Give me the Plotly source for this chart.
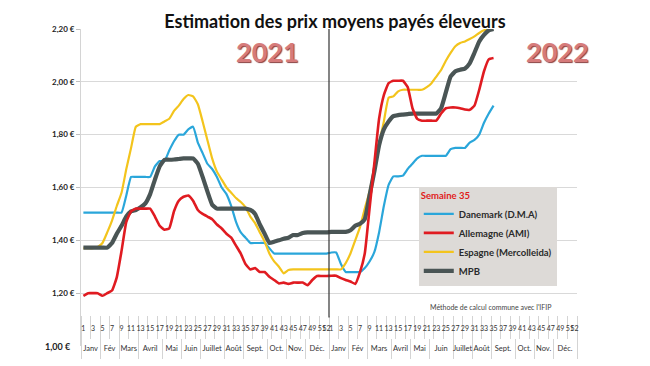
import plotly.graph_objects as go

# ---------------- data ----------------
weeks_2021 = list(range(1, 53))
weeks_2022 = list(range(1, 53))
months = ["Janv", "Fév", "Mars", "Avril", "Mai", "Juin", "Juillet", "Août",
          "Sept.", "Oct.", "Nov.", "Déc."]
month_weeks_2021 = [4, 4, 4, 5, 4, 4, 5, 4, 5, 4, 4, 5]
month_weeks_2022 = [4, 4, 5, 4, 4, 5, 4, 4, 5, 4, 4, 5]

y_tick_values = [1.2, 1.4, 1.6, 1.8, 2.0, 2.2]
y_tick_labels = ["1,20 €", "1,40 €", "1,60 €", "1,80 €", "2,00 €", "2,20 €"]
y_min_label = "1,00 €"

danemark_2021 = [1.505, 1.505, 1.505, 1.505, 1.505, 1.505, 1.505, 1.505, 1.505, 1.57,
                 1.64, 1.64, 1.64, 1.64, 1.64, 1.68, 1.70, 1.70, 1.74, 1.775,
                 1.80, 1.80, 1.82, 1.83, 1.77, 1.73, 1.69, 1.67, 1.64, 1.60,
                 1.575, 1.53, 1.47, 1.43, 1.41, 1.39, 1.39, 1.39, 1.39, 1.37,
                 1.35, 1.35, 1.35, 1.35, 1.35, 1.35, 1.35, 1.35, 1.35, 1.35,
                 1.35, 1.35]
danemark_2022 = [1.354, 1.354, 1.31, 1.28, 1.28, 1.28, 1.28, 1.295, 1.32, 1.355,
                 1.43, 1.53, 1.61, 1.642, 1.642, 1.645, 1.67, 1.69, 1.71, 1.72,
                 1.72, 1.72, 1.72, 1.72, 1.72, 1.745, 1.75, 1.75, 1.75, 1.77,
                 1.78, 1.80, 1.845, 1.88, 1.91]

allemagne_2021 = [1.19, 1.20, 1.20, 1.20, 1.19, 1.20, 1.21, 1.26, 1.36, 1.47,
                  1.51, 1.52, 1.52, 1.52, 1.52, 1.49, 1.455, 1.44, 1.445, 1.51,
                  1.55, 1.565, 1.57, 1.55, 1.515, 1.50, 1.49, 1.48, 1.46, 1.445,
                  1.425, 1.41, 1.38, 1.35, 1.31, 1.29, 1.295, 1.28, 1.28, 1.262,
                  1.25, 1.237, 1.24, 1.235, 1.24, 1.24, 1.24, 1.23, 1.25, 1.265,
                  1.265, 1.265]
allemagne_2022 = [1.266, 1.266, 1.257, 1.25, 1.244, 1.235, 1.28, 1.35, 1.52, 1.69,
                  1.86, 1.95, 1.995, 2.004, 2.004, 2.004, 1.98, 1.90, 1.86, 1.853,
                  1.853, 1.853, 1.853, 1.88, 1.90, 1.903, 1.903, 1.90, 1.895, 1.894,
                  1.91, 1.97, 2.04, 2.085, 2.09]

espagne_2021 = [1.37, 1.37, 1.37, 1.375, 1.39, 1.43, 1.475, 1.53, 1.58, 1.67,
                1.75, 1.83, 1.84, 1.84, 1.84, 1.84, 1.84, 1.85, 1.86, 1.89,
                1.91, 1.935, 1.95, 1.945, 1.915, 1.85, 1.78, 1.71, 1.66, 1.63,
                1.60, 1.58, 1.56, 1.545, 1.525, 1.49, 1.465, 1.43, 1.395, 1.35,
                1.32, 1.30, 1.275, 1.2875, 1.29, 1.29, 1.29, 1.29, 1.29, 1.29,
                1.29, 1.29]
espagne_2022 = [1.29, 1.29, 1.29, 1.314, 1.35, 1.40, 1.45, 1.52, 1.585, 1.67,
                1.765, 1.85, 1.94, 1.945, 1.964, 1.97, 1.97, 1.97, 1.97, 1.97,
                1.98, 1.995, 2.02, 2.045, 2.08, 2.11, 2.135, 2.147, 2.153, 2.162,
                2.172, 2.185, 2.195, 2.20, 2.205]

mpb_2021 = [1.3725, 1.3725, 1.3725, 1.3725, 1.3725, 1.3725, 1.39, 1.425, 1.455, 1.49,
            1.51, 1.515, 1.525, 1.54, 1.575, 1.63, 1.68, 1.705, 1.705, 1.706,
            1.708, 1.71, 1.71, 1.71, 1.69, 1.64, 1.585, 1.535, 1.52, 1.52,
            1.52, 1.52, 1.52, 1.52, 1.52, 1.515, 1.50, 1.46, 1.425, 1.39,
            1.395, 1.40, 1.406, 1.41, 1.42, 1.42, 1.4275, 1.43, 1.43, 1.43,
            1.43, 1.43]
mpb_2022 = [1.432, 1.432, 1.432, 1.432, 1.438, 1.455, 1.463, 1.48, 1.57, 1.66,
            1.76, 1.82, 1.85, 1.87, 1.874, 1.876, 1.878, 1.88, 1.88, 1.88,
            1.88, 1.88, 1.88, 1.90, 1.96, 2.02, 2.04, 2.046, 2.05, 2.07,
            2.11, 2.153, 2.178, 2.195, 2.20]

series = [
    ("Danemark (D.M.A)", danemark_2021, danemark_2022, "#2aa6da", 2.2, 1),
    ("Espagne (Mercolleida)", espagne_2021, espagne_2022, "#f3c41c", 2.2, 3),
    ("MPB", mpb_2021, mpb_2022, "#4a5555", 4.2, 4),
    ("Allemagne (AMI)", allemagne_2021, allemagne_2022, "#e01b21", 2.6, 2),
]

FONT = "Lato"
n21 = len(weeks_2021)
n_total = n21 + len(weeks_2022)

fig = go.Figure()
for name, y21, y22, color, width, rank in series:
    yy = y21 + y22
    fig.add_trace(go.Scatter(
        x=list(range(len(yy))), y=yy, name=name, mode="lines",
        line=dict(color=color, width=width, shape="spline", smoothing=0.4),
        legendrank=rank, xaxis="x", yaxis="y"))

# week row ticks
tick_vals, tick_text = [], []
for off, weeks in ((0, weeks_2021), (n21, weeks_2022)):
    for w in weeks:
        if w % 2 == 1 or w == weeks[-1]:
            tick_vals.append(off + w - 1)
            tick_text.append(str(w))
week_bounds = [k - 0.5 for k in range(0, n_total + 1, 2)]

# month row
month_vals, month_text, month_bounds = [], [], [-0.5]
start = 0
for counts in (month_weeks_2021, month_weeks_2022):
    for m, c in zip(months, counts):
        month_vals.append(start + (c - 1) / 2)
        month_text.append(m)
        start += c
        month_bounds.append(start - 0.5)

xrange_ = [-0.5, n_total - 0.5]

# page body has an 8px margin: compensate in the figure margins
fig.update_layout(
    width=650, height=366,
    margin=dict(l=73, r=81, t=21, b=28, autoexpand=False),
    paper_bgcolor="white", plot_bgcolor="white",
    font=dict(family=FONT, color="#222"),
    title=dict(text="<b>Estimation des prix moyens payés éleveurs</b>",
               x=0.503, xanchor="center", y=1 - 14 / 366, yanchor="middle",
               font=dict(size=18, family=FONT, color="#111")),
    xaxis=dict(range=xrange_, showgrid=False, zeroline=False, showline=False,
               anchor="free", position=0.098, automargin=False,
               tickmode="array", tickvals=tick_vals, ticktext=tick_text,
               tickangle=0, ticks="", ticklabelstandoff=8,
               tickfont=dict(size=7, family=FONT, color="#333"),
               minor=dict(tickvals=week_bounds, ticks="outside", ticklen=23,
                          tickcolor="#d4d4d4", tickwidth=1, showgrid=False)),
    xaxis2=dict(range=xrange_, overlaying="x", showgrid=False, zeroline=False,
                showline=False, anchor="free", position=0.025, automargin=False,
                tickmode="array", tickvals=month_vals, ticktext=month_text,
                tickangle=0, ticks="", ticklabelstandoff=4,
                tickfont=dict(size=7.5, family=FONT, color="#333"),
                minor=dict(tickvals=month_bounds, ticks="outside", ticklen=20,
                           tickcolor="#d4d4d4", tickwidth=1, showgrid=False)),
    yaxis=dict(range=[1.0, 2.2], tickmode="array", tickvals=y_tick_values,
               ticktext=y_tick_labels, showgrid=True, gridcolor="#d9d9d9", gridwidth=1,
               zeroline=False, showline=True, linecolor="#d4d4d4", automargin=False,
               ticks="outside", ticklen=4, tickcolor="#bfbfbf",
               tickfont=dict(size=8, family=FONT, color="#222", weight="bold")),
    legend=dict(x=0.681, y=0.5016, xanchor="left", yanchor="top",
                bgcolor="#dddad7", borderwidth=0,
                font=dict(size=9.5, family=FONT, color="#2a2a2a", weight="bold"),
                title=dict(text="<b>Semaine 35</b>", font=dict(size=9.5, color="#e0201b", family=FONT)),
                itemwidth=30, tracegroupgap=0),
    showlegend=True,
)

# invisible trace so xaxis2 is drawn
fig.add_trace(go.Scatter(x=[month_vals[0]], y=[None], xaxis="x2", yaxis="y",
                         showlegend=False, hoverinfo="skip"))

fig.add_annotation(text="<b>" + y_min_label + "</b>", x=0, xref="paper", y=1.0, yref="y",
                   xanchor="right", yanchor="middle", xshift=-8, showarrow=False,
                   font=dict(size=9, family=FONT, color="#222"))

fig.add_shape(type="line", x0=n21 - 0.5, x1=n21 - 0.5, xref="x", y0=0.09, y1=1,
              yref="paper", line=dict(color="#333", width=1.2))

for txt, xp in (("2021", 0.375), ("2022", 0.96)):
    fig.add_annotation(text="<b>" + txt + "</b>", x=xp, xref="paper", y=0.93, yref="paper",
                       xanchor="center", yanchor="middle", showarrow=False,
                       font=dict(size=27, family=FONT, color="#d67b7b",
                                 shadow="1px 1px 1px #8a4040"))

fig.add_annotation(text="Méthode de calcul commune avec l'IFIP", x=0.825, xref="paper",
                   y=0.123, yref="paper", xanchor="center", yanchor="middle",
                   showarrow=False, font=dict(size=7, family=FONT, color="#444"))

fig.write_html("out.html")
